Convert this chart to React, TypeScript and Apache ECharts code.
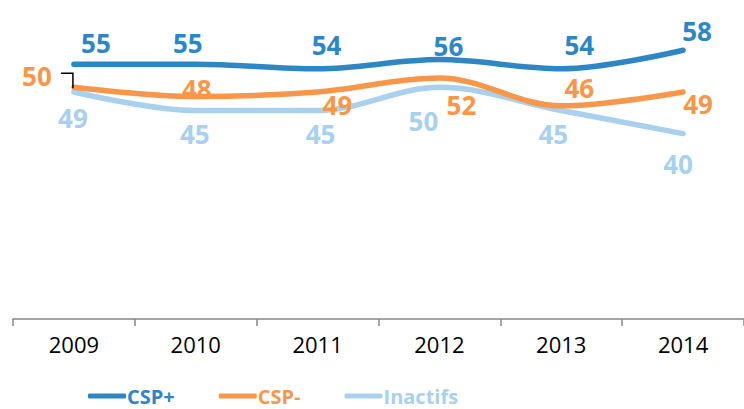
import React, { useEffect, useRef } from "react";
import * as echarts from "echarts";

const years = ["2009", "2010", "2011", "2012", "2013", "2014"];
const cspPlus = [55, 55, 54, 56, 54, 58];
const cspMinus = [50, 48, 49, 52, 46, 49];
const inactifs = [49, 45, 45, 50, 45, 40];
const seriesNames = ["CSP+", "CSP-", "Inactifs"];

// label offsets (dx, dy) from each point, as placed in the original
const cspPlusLabelOffsets = [[22, -21], [-8, -21], [9, -24], [9, -14], [18, -24], [14, -19]];
const cspMinusLabelOffsets = [[-37, -11], [1, -8], [20, 13], [22, 27], [18, -18], [15, 12]];
const inactifsLabelOffsets = [[-1, 26], [-1, 23], [3, 23], [-16, 34], [-8, 23], [-5, 30]];

const colors = ["#2E86C4", "#F8964A", "#A9D0EC"];
const FONT = "'Open Sans', 'DejaVu Sans', sans-serif";

export default function App() {
  const ref = useRef<HTMLDivElement>(null);
  useEffect(() => {
    if (!ref.current) return;
    const chart = echarts.init(ref.current, undefined, { renderer: "svg" });
    const mk = (name: string, values: number[], offs: number[][], color: string) => ({
      name,
      type: "line",
      smooth: 0.35,
      symbol: "circle",
      symbolSize: 1,
      showSymbol: true,
      itemStyle: { color },
      lineStyle: { width: 5.5, color, cap: "round" },
      data: values.map((v, i) => ({
        value: v,
        label: { offset: offs[i] },
      })),
      label: {
        show: true,
        position: "inside",
        color,
        fontFamily: FONT,
        fontWeight: "bold",
        fontSize: 26,
      },
      z: name === "CSP+" ? 3 : name === "CSP-" ? 2 : 1,
    });
    chart.setOption({
      animation: false,
      grid: { left: 13, right: 0, top: 41, bottom: 90 },
      xAxis: {
        type: "category",
        data: years,
        boundaryGap: true,
        axisLine: { lineStyle: { color: "#878787", width: 1.5 } },
        axisTick: { show: true, length: 7, interval: 0, lineStyle: { color: "#878787", width: 1.5 } },
        axisLabel: { color: "#000", fontFamily: FONT, fontSize: 22, margin: 14 },
      },
      yAxis: { type: "value", min: 0, max: 60, show: false },
      legend: {
        left: 88,
        top: 385,
        padding: 0,
        itemWidth: 38,
        itemHeight: 5,
        itemGap: 44,
        icon: "roundRect",
        data: seriesNames.map((n, i) => ({
          name: n,
          textStyle: { color: colors[i] },
        })),
        textStyle: {
          fontFamily: FONT,
          fontWeight: "bold",
          fontSize: 20,
          lineHeight: 22,
          padding: [0, 0, 0, -4],
        },
      },
      series: [
        mk("CSP+", cspPlus, cspPlusLabelOffsets, colors[0]),
        mk("CSP-", cspMinus, cspMinusLabelOffsets, colors[1]),
        mk("Inactifs", inactifs, inactifsLabelOffsets, colors[2]),
      ],
    });
    const p = chart.convertToPixel({ gridIndex: 0 }, [0, cspMinus[0]]) as number[];
    chart.setOption({
      graphic: [
        {
          type: "polyline",
          z: 10,
          shape: {
            points: [
              [p[0] - 13, p[1] - 14],
              [p[0] - 1, p[1] - 14],
              [p[0] - 1, p[1] + 1],
            ],
          },
          style: { stroke: "#000", lineWidth: 1.5, fill: "none" },
        },
      ],
    });
    return () => chart.dispose();
  }, []);
  return (
    <div
      ref={ref}
      style={{ position: "fixed", left: 0, top: 0, width: 744, height: 409, background: "#fff" }}
    />
  );
}
